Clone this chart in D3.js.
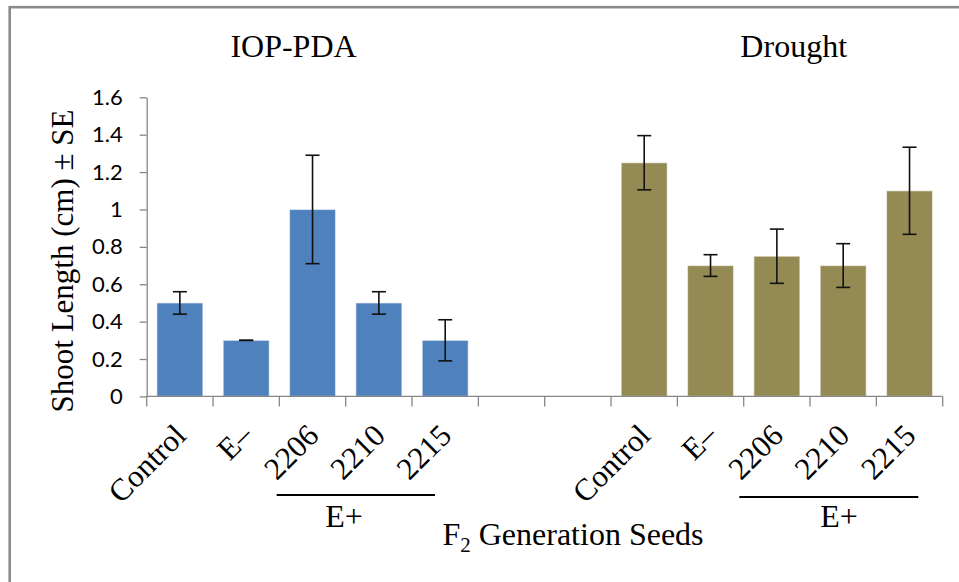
<!DOCTYPE html>
<html>
<head>
<meta charset="utf-8">
<script src="https://cdn.jsdelivr.net/npm/d3@7/dist/d3.min.js"></script>
<style>
  html, body { margin: 0; padding: 0; background: #ffffff; }
  svg { display: block; }
</style>
</head>
<body>
<svg id="chart" width="959" height="582"></svg>
<script>
// ---- data ----
const groups = ["IOP-PDA", "Drought"];
const seedLabels = ["Control", "E\u2013", "2206", "2210", "2215"];
const iopValues = [0.5, 0.3, 1.0, 0.5, 0.3];
const iopErrors = [0.06, 0.0, 0.29, 0.06, 0.11];
const droughtValues = [1.25, 0.7, 0.75, 0.7, 1.1];
const droughtErrors = [0.145, 0.058, 0.145, 0.117, 0.233];
const yTicks = [0, 0.2, 0.4, 0.6, 0.8, 1, 1.2, 1.4, 1.6];
const gapSlots = ["gap1", "gap2"];
const groupColors = ["#4F81BD", "#948A54"];

// ---- build slots ----
const rows = [];
seedLabels.forEach((s, i) => rows.push({ key: "IOP|" + s, label: s, value: iopValues[i], err: iopErrors[i], g: 0 }));
gapSlots.forEach(k => rows.push({ key: k, label: "", value: null, err: null, g: -1 }));
seedLabels.forEach((s, i) => rows.push({ key: "DRO|" + s, label: s, value: droughtValues[i], err: droughtErrors[i], g: 1 }));

const svg = d3.select("#chart");

// frame
svg.append("rect").attr("x", 9.7).attr("y", 7.2).attr("width", 1100).attr("height", 800)
  .attr("fill", "none").attr("stroke", "#8a8a8a").attr("stroke-width", 2.6);

const x = d3.scaleBand().domain(rows.map(d => d.key))
  .range([146.7, 942.7]).paddingInner(0.306).paddingOuter(0.153);
const y = d3.scaleLinear().domain([0, 1.6]).range([396.4, 97.3]);
const step = x.step();
const axisColor = "#878787";

// bars
const barRows = rows.filter(d => d.value !== null);
svg.append("g").selectAll("rect").data(barRows).join("rect")
  .attr("x", d => x(d.key))
  .attr("width", x.bandwidth())
  .attr("y", d => y(d.value))
  .attr("height", d => y(0) - y(d.value))
  .attr("fill", d => groupColors[d.g])
  .attr("stroke", "rgba(255,255,255,0.55)")
  .attr("stroke-width", 1.2);

// error bars
const eb = svg.append("g").attr("stroke", "#111").attr("stroke-width", 1.6);
barRows.forEach(d => {
  const cx = x(d.key) + x.bandwidth() / 2;
  const top = y(d.value + d.err), bot = y(d.value - d.err);
  eb.append("line").attr("x1", cx).attr("x2", cx).attr("y1", top).attr("y2", bot);
  eb.append("line").attr("x1", cx - 7).attr("x2", cx + 7).attr("y1", top).attr("y2", top);
  eb.append("line").attr("x1", cx - 7).attr("x2", cx + 7).attr("y1", bot).attr("y2", bot);
});

// y axis
const yAxis = d3.axisLeft(y).tickValues(yTicks).tickSize(7).tickSizeOuter(0)
  .tickFormat(d => d3.format("")(d)).tickPadding(17);
const gy = svg.append("g").attr("transform", "translate(146.7,0)").call(yAxis);
gy.select(".domain").attr("stroke", axisColor).attr("stroke-width", 1.3);
gy.selectAll(".tick line").attr("stroke", axisColor).attr("stroke-width", 1.3);
gy.selectAll(".tick text").attr("fill", "#000").style("font-family", "Lato, 'Open Sans', sans-serif")
  .style("font-size", "22px");

// x axis line + boundary ticks
const gx = svg.append("g");
gx.append("line").attr("x1", 146.7).attr("x2", 942.7).attr("y1", y(0)).attr("y2", y(0))
  .attr("stroke", axisColor).attr("stroke-width", 1.3);
const bounds = d3.range(rows.length + 1).map(i => 146.7 + i * step);
gx.selectAll("line.bt").data(bounds).join("line").attr("class", "bt")
  .attr("x1", d => d).attr("x2", d => d).attr("y1", y(0)).attr("y2", y(0) + 10)
  .attr("stroke", axisColor).attr("stroke-width", 1.3);

// category labels (rotated)
const serif = "'Liberation Serif', 'Times New Roman', serif";
svg.append("g").selectAll("text").data(rows.filter(d => d.label)).join("text")
  .attr("transform", d => {
    const cx = x(d.key) + x.bandwidth() / 2 + 8;
    return `translate(${cx},${y(0) + 41}) rotate(-45)`;
  })
  .attr("text-anchor", "end")
  .style("font-family", serif).style("font-size", "31px").attr("fill", "#000")
  .text(d => d.label);

// group titles
const titlePos = [[293.5, 57], [793.7, 57]];
groups.forEach((g, i) => {
  svg.append("text").attr("x", titlePos[i][0]).attr("y", titlePos[i][1])
    .attr("text-anchor", "middle").style("font-family", serif).style("font-size", "32px")
    .text(g);
});

// E+ brackets
const brackets = [
  { x1: 276.7, x2: 435, ly: 495, tx: 344 },
  { x1: 739.3, x2: 918.3, ly: 497, tx: 839 }
];
brackets.forEach(b => {
  svg.append("line").attr("x1", b.x1).attr("x2", b.x2).attr("y1", b.ly).attr("y2", b.ly)
    .attr("stroke", "#000").attr("stroke-width", 2.2);
  svg.append("text").attr("x", b.tx).attr("y", 527).attr("text-anchor", "middle")
    .style("font-family", serif).style("font-size", "32px").text("E+");
});

// x axis title
const xt = svg.append("text").attr("x", 573).attr("y", 545).attr("text-anchor", "middle")
  .style("font-family", serif).style("font-size", "32px");
xt.append("tspan").text("F");
xt.append("tspan").attr("dy", 7).style("font-size", "21px").text("2");
xt.append("tspan").attr("dy", -7).text(" Generation Seeds");

// y axis title
svg.append("text").attr("transform", "translate(73,261) rotate(-90)")
  .attr("text-anchor", "middle").style("font-family", serif).style("font-size", "31px")
  .text("Shoot Length (cm) \u00B1 SE");
</script>
</body>
</html>
